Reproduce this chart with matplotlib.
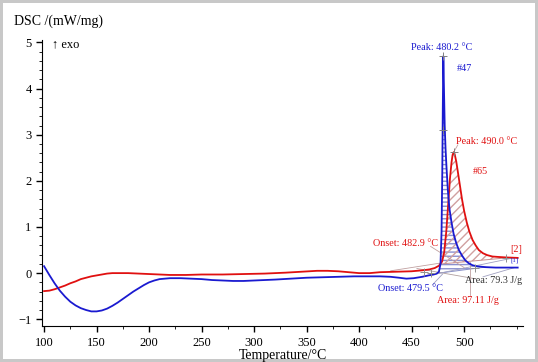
import matplotlib
matplotlib.use('Agg')
import matplotlib.pyplot as plt
from matplotlib.ticker import MultipleLocator, FixedLocator

plt.rcParams['font.family'] = ['Liberation Serif', 'DejaVu Serif']

# blue run (#47)
blue_T = [100, 105, 110, 115, 120, 125, 130, 135, 140, 145, 150, 155, 160, 165, 170, 175,
          180, 185, 190, 195, 200, 205, 210, 215, 220, 230, 240, 250, 260, 270, 280, 290,
          300, 310, 320, 335, 350, 365, 380, 395, 410, 420, 430, 438, 445, 452, 460, 466,
          471, 474, 476, 477.5, 478.5, 479.2, 479.7, 480.2, 480.8, 481.5, 482.3, 483.2,
          484.5, 486, 488, 490, 492.5, 495, 498, 501, 504, 508, 512, 516, 520, 530, 540, 551]
blue_Y = [0.15, -0.04, -0.22, -0.38, -0.51, -0.62, -0.70, -0.76, -0.80, -0.83, -0.83, -0.81,
          -0.77, -0.71, -0.64, -0.56, -0.48, -0.40, -0.33, -0.26, -0.20, -0.16, -0.13, -0.12,
          -0.11, -0.11, -0.12, -0.13, -0.15, -0.16, -0.17, -0.17, -0.16, -0.15, -0.14, -0.12,
          -0.10, -0.09, -0.08, -0.07, -0.07, -0.07, -0.08, -0.10, -0.12, -0.11, -0.08, -0.05,
          -0.03, -0.01, 0.03, 0.2, 0.9, 2.2, 3.6, 4.7, 4.0, 3.2, 2.7, 2.3, 1.8, 1.4, 1.1,
          0.85, 0.65, 0.5, 0.38, 0.28, 0.22, 0.17, 0.15, 0.14, 0.13, 0.12, 0.12, 0.12]

# red run (#65)
red_T = [100, 105, 110, 115, 120, 125, 130, 135, 140, 145, 150, 155, 160, 165, 170, 180,
         190, 200, 210, 220, 235, 250, 270, 290, 310, 330, 345, 360, 370, 380, 390, 400,
         410, 420, 435, 450, 460, 467, 472, 476, 479, 481, 483, 485, 486.5, 488, 489, 490,
         491, 492.5, 494, 496, 498, 500, 502.5, 505, 508, 511, 514, 518, 522, 527, 533,
         540, 551]
red_Y = [-0.39, -0.38, -0.35, -0.31, -0.27, -0.22, -0.18, -0.13, -0.10, -0.07, -0.05, -0.03,
         -0.01, 0.0, 0.0, 0.0, -0.01, -0.02, -0.03, -0.04, -0.04, -0.03, -0.03, -0.02, -0.01,
         0.01, 0.03, 0.05, 0.05, 0.04, 0.02, 0.0, 0.0, 0.02, 0.03, 0.04, 0.06, 0.08, 0.11,
         0.16, 0.25, 0.45, 0.9, 1.55, 2.05, 2.4, 2.56, 2.62, 2.58, 2.42, 2.2, 1.9, 1.6, 1.35,
         1.1, 0.9, 0.72, 0.6, 0.5, 0.43, 0.39, 0.36, 0.35, 0.34, 0.33]

x_ticks = [100, 150, 200, 250, 300, 350, 400, 450, 500]

blue = '#1a1ad0'
red = '#e01010'

fig = plt.figure(figsize=(5.38, 3.62), dpi=100)
fig.patch.set_edgecolor('#c8c8c8')
fig.patch.set_linewidth(3)
ax = fig.add_axes([0.078, 0.099, 0.894, 0.79])

ax.plot(red_T, red_Y, color=red, lw=1.3, zorder=3)
ax.plot(blue_T, blue_Y, color=blue, lw=1.3, zorder=4)

# hatched peak areas between curve and linear baseline
def area(T, Y, t0, t1, b0, b1):
    xs = [t for t in T if t0 <= t <= t1]
    ys = [y for t, y in zip(T, Y) if t0 <= t <= t1]
    base = [b0 + (b1 - b0) * (t - t0) / (t1 - t0) for t in xs]
    return xs, ys, base

xs, ys, base = area(blue_T, blue_Y, 476, 520, 0.0, 0.13)
ax.fill_between(xs, base, ys, facecolor='none', edgecolor='#8a90d0', hatch='----', lw=0)
ax.plot([476, 520], [0.0, 0.13], color='#8890c8', lw=0.7)
xs, ys, base = area(red_T, red_Y, 479, 540, 0.2, 0.33)
ax.fill_between(xs, base, ys, facecolor='none', edgecolor='#d0a0a0', hatch='////', lw=0)
ax.plot([479, 540], [0.2, 0.33], color='#c89090', lw=0.7)

# evaluation helper lines
ax.plot([455, 510], [0.1, -0.12], color='#b0a0a0', lw=0.6)
ax.plot([430, 478], [0.05, 0.22], color='#c0a0a0', lw=0.6)
ax.plot([460, 545], [-0.08, 0.32], color='#a0a0c0', lw=0.6)

# markers
ax.plot([480.2, 480.2, 490.0], [4.7, 3.1, 2.62], '+', color='#808080', ms=6, mew=0.7, zorder=5)
ax.plot([462, 468, 510, 540], [0.02, 0.0, 0.12, 0.33], '+', color='#909090', ms=6, mew=0.7, zorder=5)

# labels
fs = 7.3
ax.text(479, 4.9, 'Peak: 480.2 °C', color=blue, fontsize=fs, ha='center', va='center')
ax.text(500, 4.43, '#47', color=blue, fontsize=fs, ha='center', va='center')
ax.plot([490.0, 494], [2.62, 2.78], color='#c0a0a0', lw=0.6)
ax.text(492, 2.86, 'Peak: 490.0 °C', color=red, fontsize=fs, ha='left', va='center')
ax.text(515, 2.2, '#65', color=red, fontsize=fs, ha='center', va='center')
ax.text(475, 0.65, 'Onset: 482.9 °C', color=red, fontsize=fs, ha='right', va='center')
ax.plot([468, 500], [0.58, 0.12], color='#c0a0a0', lw=0.6)
ax.text(480, -0.33, 'Onset: 479.5 °C', color=blue, fontsize=fs, ha='right', va='center')
ax.plot([470, 479.5], [-0.25, -0.02], color='#a0a0c0', lw=0.6)
ax.text(528, -0.17, 'Area: 79.3 J/g', color='#303030', fontsize=fs, ha='center', va='center')
ax.plot([518, 548], [-0.08, 0.12], color='#a0a0c0', lw=0.6)
ax.text(504, -0.59, 'Area: 97.11 J/g', color=red, fontsize=fs, ha='center', va='center')
ax.plot([506, 506], [-0.48, 0.25], color='#c0a0a0', lw=0.6)
ax.text(550, 0.52, '[2]', color=red, fontsize=fs, ha='center', va='center')
ax.text(548, 0.28, '[1]', color=blue, fontsize=5, ha='center', va='center')

ax.set_xlim(98, 556)
ax.set_ylim(-1.15, 5.05)
ax.spines['top'].set_visible(False)
ax.spines['right'].set_visible(False)
ax.xaxis.set_major_locator(FixedLocator(x_ticks))
ax.xaxis.set_minor_locator(MultipleLocator(25))
ax.yaxis.set_major_locator(MultipleLocator(1))
ax.yaxis.set_minor_locator(MultipleLocator(0.2))
ax.tick_params(labelsize=9, length=4, width=1)
ax.tick_params(which='minor', length=2)
ax.set_xlabel('Temperature/°C', fontsize=10, labelpad=0)
fig.text(0.026, 0.94, 'DSC /(mW/mg)', fontsize=10, ha='left', va='center')
ax.text(0.02, 0.985, '↑ exo', transform=ax.transAxes, fontsize=9, ha='left', va='center')

fig.savefig('out.png', dpi=100)
